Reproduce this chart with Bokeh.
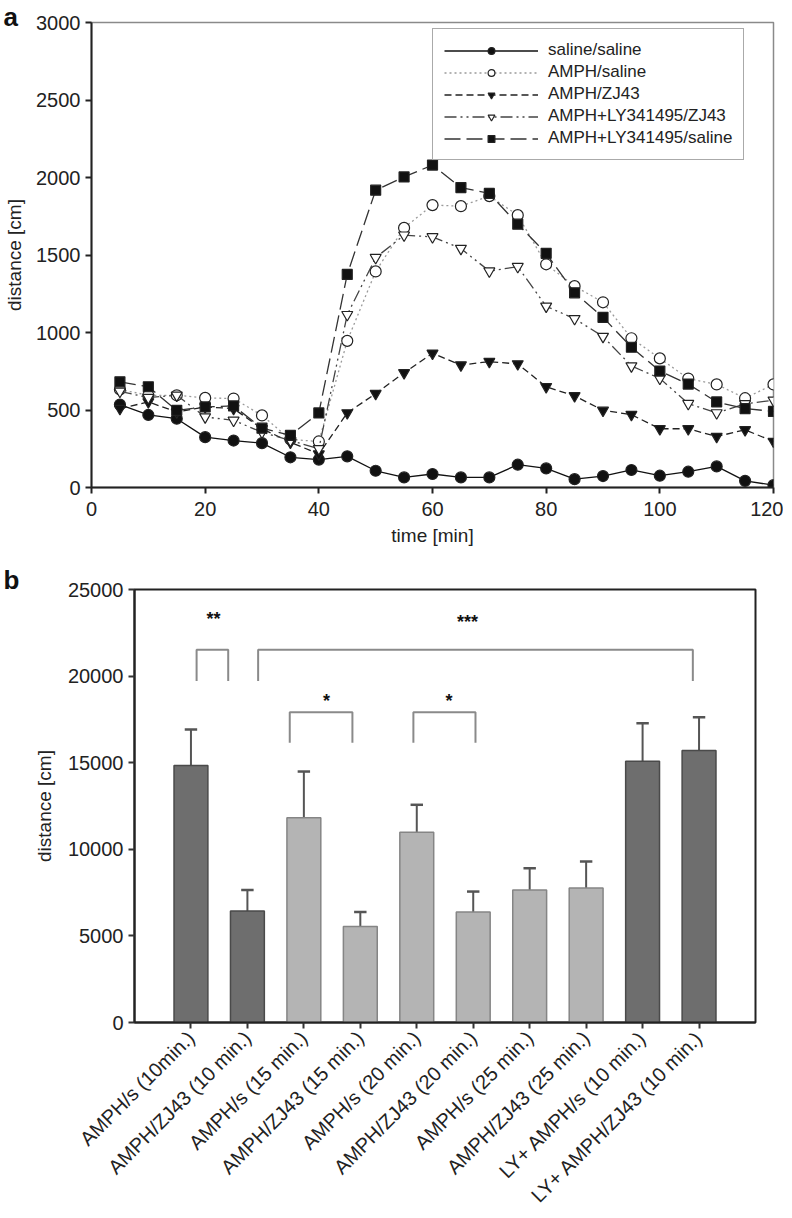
import math
from bokeh.plotting import figure
from bokeh.models import (Range1d, FixedTicker, Legend, LegendItem, Title,
                          BasicTickFormatter, ColumnDataSource)
from bokeh.layouts import column, row
from bokeh.core.properties import value
from bokeh.embed import file_html
from bokeh.resources import INLINE

FONT = "Liberation Sans"

# ---------------- data: panel a ----------------
time_min = [5, 10, 15, 20, 25, 30, 35, 40, 45, 50, 55, 60,
            65, 70, 75, 80, 85, 90, 95, 100, 105, 110, 115, 120]
saline_saline = [535, 468, 444, 325, 303, 286, 195, 180, 201, 108, 65, 87,
                 65, 65, 147, 123, 54, 74, 113, 76, 102, 136, 43, 15]
amph_saline = [632, 595, 595, 578, 574, 465, 310, 297, 946, 1394, 1675, 1822,
               1815, 1880, 1757, 1440, 1299, 1195, 963, 833, 703, 665, 576, 665]
amph_zj43 = [509, 552, 487, 520, 509, 379, 292, 216, 481, 606, 740, 866,
             790, 812, 797, 650, 591, 498, 470, 379, 379, 329, 372, 297]
amph_ly_zj43 = [620, 580, 595, 455, 433, 357, 303, 250, 1115, 1483, 1628, 1617,
                1542, 1396, 1425, 1169, 1089, 974, 784, 704, 541, 481, 540, 563]
amph_ly_saline = [682, 650, 498, 520, 526, 383, 336, 481, 1375, 1918, 2004, 2080,
                  1935, 1897, 1699, 1511, 1256, 1098, 905, 751, 667, 552, 509, 491]
series_names = ["saline/saline", "AMPH/saline", "AMPH/ZJ43",
                "AMPH+LY341495/ZJ43", "AMPH+LY341495/saline"]
x_ticks_a = [0, 20, 40, 60, 80, 100, 120]
y_ticks_a = [0, 500, 1000, 1500, 2000, 2500, 3000]

# ---------------- data: panel b ----------------
bar_labels = ["AMPH/s (10min.)", "AMPH/ZJ43 (10 min.)", "AMPH/s (15 min.)",
              "AMPH/ZJ43 (15 min.)", "AMPH/s (20 min.)", "AMPH/ZJ43 (20 min.)",
              "AMPH/s (25 min.)", "AMPH/ZJ43 (25 min.)", "LY+ AMPH/s (10 min.)",
              "LY+ AMPH/ZJ43 (10 min.)"]
bar_means = [14840, 6440, 11820, 5540, 10990, 6380, 7650, 7770, 15090, 15700]
bar_sem = [2080, 1210, 2670, 840, 1580, 1180, 1250, 1520, 2190, 1930]
bar_dark = [True, True, False, False, False, False, False, False, True, True]
y_ticks_b = [0, 5000, 10000, 15000, 20000, 25000]
# significance brackets: left x, right x, top y, leg-end y, label, label x, label y
sig_x0 = [1.10, 2.19, 2.75, 4.94]
sig_x1 = [1.66, 9.89, 3.86, 6.04]
sig_top = [21520, 21520, 17920, 17920]
sig_leg = [19710, 19710, 16150, 16150]
sig_text = ["**", "***", "*", "*"]
sig_tx = [1.40, 5.90, 3.40, 5.57]
sig_ty = [23270, 23130, 18550, 18550]


def style_axis(ax, tick_color="#222222"):
    ax.axis_line_width = 2
    ax.axis_line_color = "#222222"
    ax.major_tick_line_color = tick_color
    ax.major_tick_line_width = 2
    ax.major_tick_in = 0
    ax.major_tick_out = 6
    ax.minor_tick_line_color = None
    ax.major_label_text_font = FONT
    ax.major_label_text_font_size = "20px"
    ax.major_label_text_color = "#222222"
    ax.axis_label_text_font = FONT
    ax.axis_label_text_font_size = "19px"
    ax.axis_label_text_font_style = "normal"
    ax.axis_label_text_color = "#222222"


def panel_title(text, offset, standoff):
    return Title(text=text, align="left", offset=offset, standoff=standoff,
                 vertical_align="bottom", text_font=FONT,
                 text_font_size="26px", text_font_style="bold",
                 text_color="#111111")


# ================= panel a =================
p1 = figure(output_backend="svg", toolbar_location=None,
            frame_width=682, frame_height=465,
            min_border_left=91, min_border_right=10,
            min_border_top=22, min_border_bottom=70,
            x_range=Range1d(0, 120), y_range=Range1d(0, 3000))
p1.title = panel_title("a", -88, -18)
p1.grid.visible = False
p1.outline_line_color = "#8a8a8a"
p1.outline_line_width = 1.5
style_axis(p1.xaxis[0])
style_axis(p1.yaxis[0])
p1.xaxis.ticker = FixedTicker(ticks=x_ticks_a)
p1.yaxis.ticker = FixedTicker(ticks=y_ticks_a)
p1.xaxis.axis_label = "time [min]"
p1.yaxis.axis_label = "distance [cm]"
p1.xaxis.major_label_standoff = 8
p1.xaxis.axis_label_standoff = 6
p1.yaxis.major_label_standoff = 5
p1.yaxis.axis_label_standoff = 8

styles = [
    dict(ys=saline_saline, dash="solid", lc="#111111", marker="circle", fill="#111111"),
    dict(ys=amph_saline, dash="2 3", lc="#9a9a9a", marker="circle", fill="white"),
    dict(ys=amph_zj43, dash="7 4", lc="#222222", marker="inverted_triangle", fill="#111111"),
    dict(ys=amph_ly_zj43, dash="12 4 2 4 2 4", lc="#444444", marker="inverted_triangle", fill="white"),
    dict(ys=amph_ly_saline, dash="16 6", lc="#333333", marker="square", fill="#111111"),
]
items = []
for name, st in zip(series_names, styles):
    lr = p1.line(time_min, st["ys"], line_color=st["lc"], line_width=1.3,
                 line_dash=st["dash"])
    sz = 11 if st["marker"] != "square" else 10
    sr = p1.scatter(time_min, st["ys"], marker=st["marker"], size=sz,
                    fill_color=st["fill"], line_color="#222222", line_width=1.2)
    items.append(LegendItem(label=name, renderers=[lr, sr]))

legend = Legend(items=items, location=(341, 327),
                glyph_width=94, glyph_height=17, label_height=17,
                label_standoff=10, spacing=2, padding=11, margin=0,
                label_text_font=FONT, label_text_font_size="17px",
                label_text_color="#222222",
                border_line_color="#555555", border_line_width=1,
                background_fill_alpha=1.0)
p1.add_layout(legend)

# ================= panel b =================
p2 = figure(output_backend="svg", toolbar_location=None,
            frame_width=621, frame_height=433,
            min_border_left=134, min_border_right=20,
            min_border_top=32, min_border_bottom=190,
            x_range=Range1d(0, 11), y_range=Range1d(0, 25000))
p2.title = panel_title("b", -131, -10)
p2.grid.visible = False
p2.outline_line_color = "#222222"
p2.outline_line_width = 2
style_axis(p2.xaxis[0], "#333333")
style_axis(p2.yaxis[0], "#333333")
p2.yaxis.ticker = FixedTicker(ticks=y_ticks_b)
p2.yaxis.formatter = BasicTickFormatter(use_scientific=False)
p2.yaxis.axis_label = "distance [cm]"
p2.yaxis.major_label_standoff = 5
p2.yaxis.axis_label_standoff = 10
bar_x = list(range(1, len(bar_labels) + 1))
p2.xaxis.ticker = FixedTicker(ticks=bar_x)
p2.xaxis.major_label_overrides = {i: lab for i, lab in zip(bar_x, bar_labels)}
p2.xaxis.major_label_orientation = math.pi / 4
p2.xaxis.major_label_standoff = 6
p2.xaxis.major_label_text_font_size = "20px"

src = ColumnDataSource(dict(
    x=bar_x, top=bar_means,
    err=[m + s for m, s in zip(bar_means, bar_sem)],
    fill=["#6e6e6e" if d else "#b4b4b4" for d in bar_dark],
    line=["#4a4a4a" if d else "#858585" for d in bar_dark],
    c0=[x - 0.11 for x in bar_x], c1=[x + 0.11 for x in bar_x],
))
p2.segment(x0="x", y0="top", x1="x", y1="err", source=src,
           line_color="#555555", line_width=2)
p2.segment(x0="c0", y0="err", x1="c1", y1="err", source=src,
           line_color="#555555", line_width=2.5)
p2.vbar(x="x", width=0.6, top="top", bottom=0, source=src,
        fill_color="fill", line_color="line", line_width=1.5)

bxs = [[a, a, b, b] for a, b in zip(sig_x0, sig_x1)]
bys = [[l, t, t, l] for t, l in zip(sig_top, sig_leg)]
p2.multi_line(bxs, bys, line_color="#8a8a8a", line_width=2)
p2.text(sig_tx, sig_ty, text=sig_text, text_align="center",
        text_baseline="middle", text_font=value(FONT),
        text_font_size="18px", text_font_style="bold", text_color="#111111")

layout = column(row(p1), row(p2), spacing=0)
open("out.html", "w").write(file_html(layout, INLINE))
